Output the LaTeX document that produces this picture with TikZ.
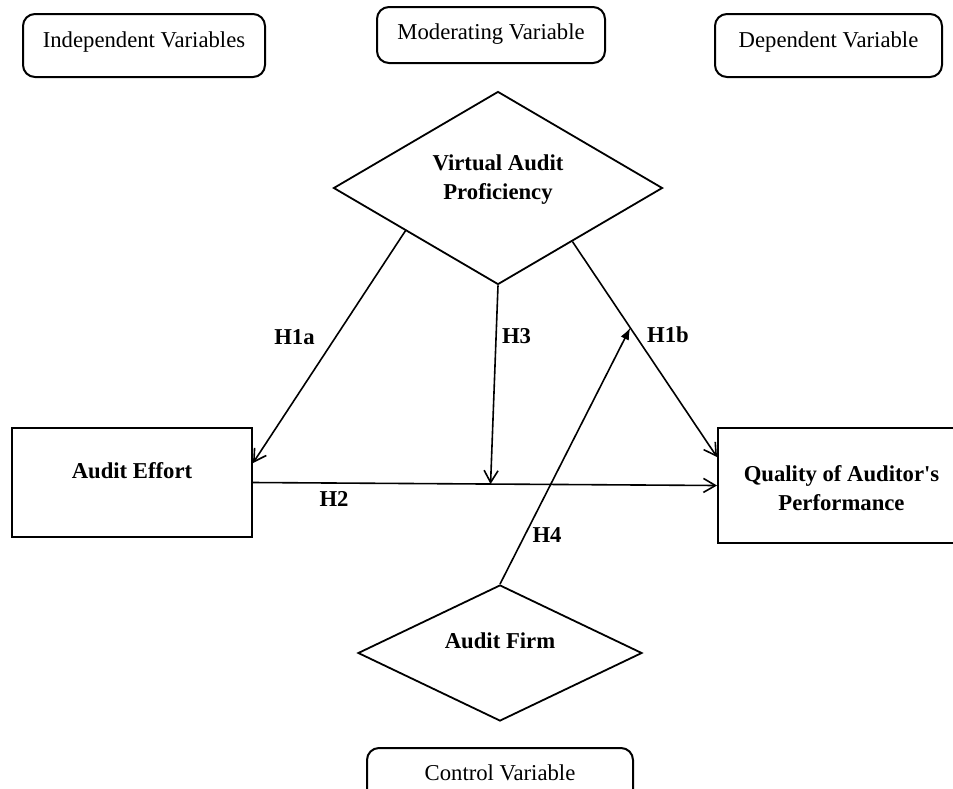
\documentclass[tikz,border=0pt]{standalone}
\usepackage{fontspec}
\setmainfont{Liberation Serif}
\usetikzlibrary{arrows.meta, shapes.geometric, calc, positioning}
\newcommand{\figfont}{\fontsize{22.7}{29}\selectfont}

\tikzset{
  tagbox/.style={draw, line width=2pt, rounded corners=12pt, inner sep=0pt,
    font=\figfont, text height=16pt, text depth=13pt},
  varbox/.style={draw, line width=2pt, inner sep=0pt, align=center,
    font=\figfont\bfseries, text height=16pt},
  decision/.style={draw, diamond, line width=1.8pt, inner sep=0pt, align=center,
    font=\figfont\bfseries, text height=16pt},
  hlabel/.style={inner sep=0pt, font=\figfont\bfseries, text height=15pt, text depth=0pt},
  link/.style={line width=1.6pt, -{Straight Barb[length=12pt,width=14pt]}},
  ctrl/.style={line width=1.6pt, -{Latex[length=12pt,width=9pt]}}
}

\begin{document}
\begin{tikzpicture}[x=1pt, y=-1pt]
  \useasboundingbox (0,0) rectangle (953,788);

  % group headings
  \node[tagbox, minimum width=242pt, minimum height=63pt] (indep) at (144,45.5) {Independent Variables};
  \node[tagbox, minimum width=228pt, minimum height=56pt, text depth=8pt] (moder) at (491,35) {Moderating Variable};
  \node[tagbox, minimum width=227pt, minimum height=63pt] (depen) at (828.5,45.5) {Dependent Variable};
  \node[tagbox, minimum width=266pt, minimum height=56pt, text depth=8pt] (contr) at (500,776) {Control Variable};

  % variables
  \node[decision, minimum width=329pt, minimum height=193pt, aspect=1.7, text height=45pt, text depth=23pt] (vap) at (498,188) {Virtual Audit\\Proficiency};
  \node[varbox, minimum width=240pt, minimum height=109pt, text depth=24pt] (effort) at (132,482.5) {Audit Effort};
  \node[varbox, minimum width=247pt, minimum height=115pt, text height=55pt, text depth=6pt] (qap) at (841.5,485.5) {Quality of Auditor\textquotesingle s\\Performance};
  \node[decision, minimum width=284pt, minimum height=136pt, aspect=2.1, text depth=26pt] (firm) at (500,653) {Audit Firm};

  % helper points
  \coordinate (h1astart) at ($(vap.west)!0.44!(vap.south)$);
  \coordinate (h1bstart) at ($(vap.south)!0.45!(vap.east)$);
  \coordinate (h1bend) at ([yshift=28.5pt]qap.west);
  \coordinate (h3end) at ($(effort.east)!0.512!(qap.west)$);
  \coordinate (h4end) at ($(h1bstart)!0.40!(h1bend)$);

  % paths
  \draw[link] (h1astart) -- ([yshift=19.5pt]effort.east);
  \draw[link] (h1bstart) -- (h1bend);
  \draw[link] (effort.east) -- (qap.west);
  \draw[link] (vap.south) -- (h3end);
  \draw[ctrl] (firm.north) -- (h4end);

  % hypotheses
  \node[hlabel] (h1a) at (294.5,336.5) {H1a};
  \node[hlabel] (h1b) at (668,334.5) {H1b};
  \node[hlabel] (h2) at (334,498.5) {H2};
  \node[hlabel] (h3) at (516.5,335.5) {H3};
  \node[hlabel] (h4) at (547,535) {H4};
\end{tikzpicture}
\end{document}
